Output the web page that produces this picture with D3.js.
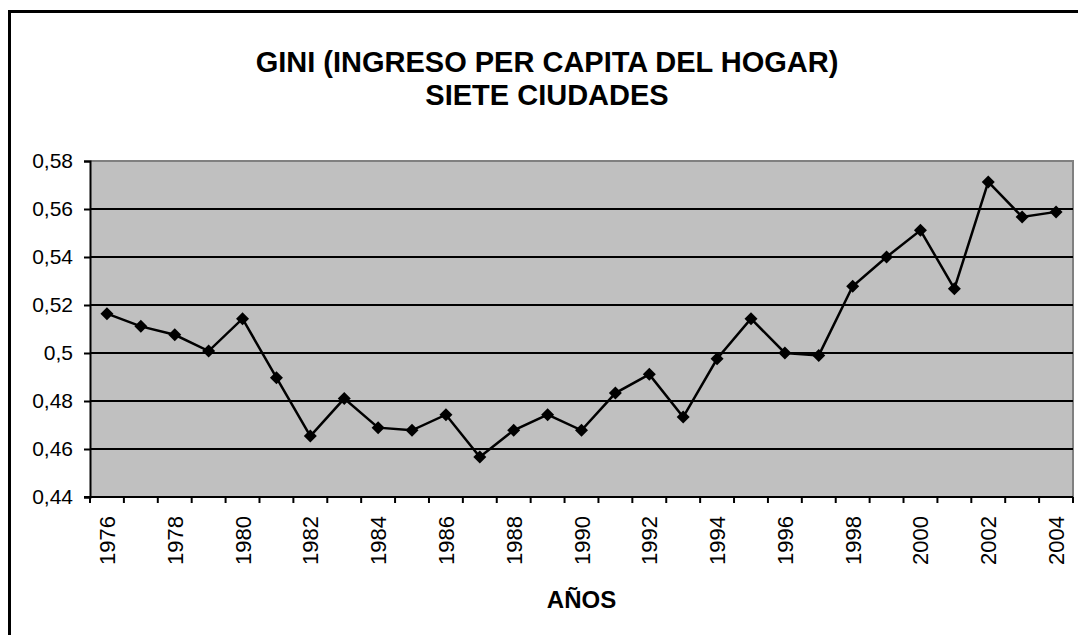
<!DOCTYPE html>
<html lang="es">
    <head>
        <meta charset="utf-8">
        <title>Gini siete ciudades</title>
        <script type="text/javascript" src="https://cdn.jsdelivr.net/npm/d3@7"></script>
        <style type="text/css">
        body { margin: 0; background: #fff; }
        text { font-family: Arial, "Liberation Sans", sans-serif; }
        </style>
    </head>
    <body>
        <script type="text/javascript">
        var years = d3.range(1976, 2005);
        var gini = [0.5164, 0.5111, 0.5076, 0.5008, 0.5143, 0.4897, 0.4654, 0.4810,
                    0.4689, 0.4678, 0.4743, 0.4567, 0.4678, 0.4743, 0.4678, 0.4833,
                    0.4911, 0.4733, 0.4976, 0.5143, 0.5000, 0.4990, 0.5278, 0.5400,
                    0.5511, 0.5268, 0.5713, 0.5567, 0.5588];
        var yTicks = [0.44, 0.46, 0.48, 0.50, 0.52, 0.54, 0.56, 0.58];
        var titleLines = ["GINI (INGRESO PER CAPITA DEL HOGAR)", "SIETE CIUDADES"];

        var W = 1078, H = 635;
        var plotL = 90, plotR = 1073, plotT = 161, plotB = 497;

        var svg = d3.select("body")
            .append("svg")
            .attr("width", W)
            .attr("height", H);

        // outer chart border (runs off the right and bottom edges)
        svg.append("path")
            .attr("d", "M9.5," + (H + 5) + "V11.5H" + (W + 5))
            .attr("fill", "none")
            .attr("stroke", "#000")
            .attr("stroke-width", 3);

        var x = d3.scaleBand().domain(years).range([plotL, plotR]);
        var y = d3.scaleLinear().domain([0.44, 0.58]).range([plotB, plotT]);

        // plot area
        svg.append("rect")
            .attr("x", plotL).attr("y", plotT)
            .attr("width", plotR - plotL).attr("height", plotB - plotT)
            .attr("fill", "#c0c0c0");
        svg.append("path")
            .attr("d", "M" + plotL + "," + plotT + "H" + plotR + "V" + plotB)
            .attr("fill", "none")
            .attr("stroke", "#808080")
            .attr("stroke-width", 2);

        // gridlines
        svg.selectAll("line.grid")
            .data(yTicks.slice(1, -1))
            .enter()
            .append("line")
            .attr("class", "grid")
            .attr("x1", plotL).attr("x2", plotR)
            .attr("y1", function(d) { return y(d); })
            .attr("y2", function(d) { return y(d); })
            .attr("stroke", "#000")
            .attr("stroke-width", 2);

        // y axis
        var yAxis = d3.axisLeft(y)
            .tickValues(yTicks)
            .tickSize(6)
            .tickPadding(11)
            .tickFormat(function(d) { return d3.format(".2~f")(d).replace(".", ","); });
        var gy = svg.append("g")
            .attr("transform", "translate(" + plotL + ",0)")
            .call(yAxis);
        gy.select(".domain").attr("stroke-width", 2);
        gy.selectAll(".tick line").attr("stroke-width", 2);
        gy.selectAll("text")
            .attr("font-size", "21px")
            .attr("font-family", "Arial, 'Liberation Sans', sans-serif")
            .attr("fill", "#000");

        // x axis: ticks between categories
        var gx = svg.append("g");
        gx.append("line")
            .attr("x1", plotL - 6).attr("x2", plotR)
            .attr("y1", plotB).attr("y2", plotB)
            .attr("stroke", "#000")
            .attr("stroke-width", 2);
        gx.selectAll("line.tick")
            .data(years.concat([2005]))
            .enter()
            .append("line")
            .attr("class", "tick")
            .attr("x1", function(d) { return d === 2005 ? plotR : x(d); })
            .attr("x2", function(d) { return d === 2005 ? plotR : x(d); })
            .attr("y1", plotB).attr("y2", plotB + 6)
            .attr("stroke", "#000")
            .attr("stroke-width", 2);
        gx.selectAll("text")
            .data(years.filter(function(d) { return d % 2 === 0; }))
            .enter()
            .append("text")
            .text(function(d) { return d; })
            .attr("transform", function(d) {
                return "translate(" + (x(d) + x.bandwidth() / 2 + 8) + "," + (plotB + 19) + ") rotate(-90)";
            })
            .attr("text-anchor", "end")
            .attr("font-size", "22px")
            .attr("fill", "#000");

        // series
        var line = d3.line()
            .x(function(d, i) { return x(years[i]) + x.bandwidth() / 2; })
            .y(function(d) { return y(d); });
        svg.append("path")
            .datum(gini)
            .attr("d", line)
            .attr("fill", "none")
            .attr("stroke", "#000")
            .attr("stroke-width", 2.5);
        svg.selectAll("path.marker")
            .data(gini)
            .enter()
            .append("path")
            .attr("class", "marker")
            .attr("d", "M0,-6.5L6.5,0L0,6.5L-6.5,0Z")
            .attr("transform", function(d, i) {
                return "translate(" + (x(years[i]) + x.bandwidth() / 2) + "," + y(d) + ")";
            })
            .attr("fill", "#000");

        // titles
        svg.selectAll("text.title")
            .data(titleLines)
            .enter()
            .append("text")
            .attr("class", "title")
            .text(function(d) { return d; })
            .attr("x", 547)
            .attr("y", function(d, i) { return 72 + i * 33; })
            .attr("text-anchor", "middle")
            .attr("font-size", "29px")
            .attr("font-weight", "bold")
            .attr("fill", "#000");

        svg.append("text")
            .text("AÑOS")
            .attr("x", (plotL + plotR) / 2)
            .attr("y", 608)
            .attr("text-anchor", "middle")
            .attr("font-size", "24px")
            .attr("font-weight", "bold")
            .attr("fill", "#000");
        </script>
    </body>
</html>
